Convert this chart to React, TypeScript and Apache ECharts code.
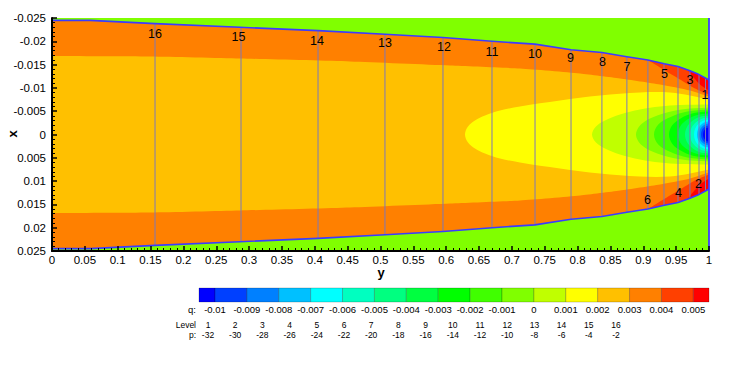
import React, { useEffect, useRef } from "react";
import * as echarts from "echarts";

// ---------- colour levels of q (17 bands) and legend texts ----------
const levelColors = [
  "#0000ff", "#0040ff", "#0080ff", "#00c0ff", "#00ffff", "#00ffc0", "#00ff80", "#00ff40",
  "#00ff00", "#40ff00", "#80ff00", "#c0ff00", "#ffff00", "#ffc000", "#ff8000", "#ff4000", "#ff0000",
];
const qTicks = [
  "-0.01", "-0.009", "-0.008", "-0.007", "-0.006", "-0.005", "-0.004", "-0.003",
  "-0.002", "-0.001", "0", "0.001", "0.002", "0.003", "0.004", "0.005",
];
const pLevels = [1, 2, 3, 4, 5, 6, 7, 8, 9, 10, 11, 12, 13, 14, 15, 16];
const pValues = [-32, -30, -28, -26, -24, -22, -20, -18, -16, -14, -12, -10, -8, -6, -4, -2];
const xAxisTitle = "y";
const yAxisTitle = "x";

// ---------- wake boundary (y along horizontal axis, half width in x) ----------
const wakeY = [0, 0.058, 0.157, 0.286, 0.405, 0.507, 0.595, 0.67, 0.735, 0.79, 0.837, 0.875, 0.907, 0.932, 0.953, 0.971, 0.983, 1.0];
const wakeX = [0.0245, 0.0245, 0.0238, 0.023, 0.0223, 0.0215, 0.0208, 0.02, 0.0194, 0.0182, 0.0176, 0.0167, 0.016, 0.0152, 0.0146, 0.0137, 0.013, 0.0117];

// q 0.002..0.003 band (upper half)
const band3Y = [0, 0.1492, 0.2861, 0.4536, 0.6058, 0.7123, 0.8037, 0.8645, 0.9254, 0.9711, 1];
const band3X = [0.01685, 0.01674, 0.01631, 0.01567, 0.01481, 0.01416, 0.01309, 0.01202, 0.01073, 0.00944, 0.00815];

// q 0.001..0.002 (yellow)
const yellowY = [0.6286, 0.6332, 0.6438, 0.6591, 0.6819, 0.7123, 0.7732, 0.8341, 0.895, 0.9406, 0.9711, 1];
const yellowX = [0, 0.00172, 0.003, 0.00408, 0.00515, 0.00601, 0.0073, 0.00837, 0.00901, 0.00901, 0.00837, 0.00751];

// q 0..0.001
const c12Y = [0.8219, 0.828, 0.8417, 0.8645, 0.895, 0.9254, 0.9559, 1];
const c12X = [0, 0.00172, 0.003, 0.00429, 0.00536, 0.00601, 0.00633, 0.00644];
// q -0.001..0
const c11Y = [0.8889, 0.8977, 0.9222, 0.9556, 1];
const c11X = [0, 0.00232, 0.00412, 0.00532, 0.00579];
// q -0.002..-0.001
const c10Y = [0.9163, 0.9228, 0.9425, 0.9671, 1];
const c10X = [0, 0.00215, 0.00382, 0.00494, 0.00536];
// q -0.003..-0.002
const c9Y = [0.9391, 0.944, 0.9574, 0.9756, 1];
const c9X = [0, 0.00197, 0.0035, 0.00455, 0.00494];
// q -0.004..-0.003
const c8Y = [0.9528, 0.9566, 0.967, 0.9811, 1];
const c8X = [0, 0.0018, 0.0032, 0.00414, 0.00451];
// q -0.005..-0.004
const c7Y = [0.9635, 0.9665, 0.9744, 0.9853, 1];
const c7X = [0, 0.00163, 0.0029, 0.00376, 0.00408];
// q -0.006..-0.005
const c6Y = [0.9711, 0.9734, 0.9798, 0.9884, 1];
const c6X = [0, 0.00146, 0.0026, 0.00335, 0.00365];
// q -0.007..-0.006
const c5Y = [0.9772, 0.979, 0.984, 0.9909, 1];
const c5X = [0, 0.00129, 0.0023, 0.00296, 0.00322];
// q -0.008..-0.007
const c4Y = [0.9817, 0.9833, 0.9871, 0.9925, 1];
const c4X = [0, 0.00112, 0.00197, 0.00258, 0.00279];
// q -0.009..-0.008
const c3Y = [0.9848, 0.986, 0.9893, 0.9939, 1];
const c3X = [0, 0.00094, 0.00167, 0.00217, 0.00236];
// q -0.01..-0.009
const c2Y = [0.9878, 0.9887, 0.9914, 0.9951, 1];
const c2X = [0, 0.00077, 0.00137, 0.00178, 0.00193];
// q < -0.01
const c1Y = [0.9909, 0.9916, 0.9936, 0.9963, 1];
const c1X = [0, 0.0006, 0.00107, 0.00137, 0.0015];

// q 0.004..0.005 patch near the wall (upper one; lower is its mirror)
const red4Y = [0.9072, 0.9315, 0.9528, 0.9711, 0.9833, 1, 1.005, 1.005, 1, 0.9787, 0.9559, 0.933, 0.9132];
const red4X = [0.01599, 0.01524, 0.01459, 0.01373, 0.01298, 0.0117, 0.0117, 0.00858, 0.00858, 0.00987, 0.0118, 0.01373, 0.01545];
// q > 0.005 patch
const red5Y = [0.968, 0.9833, 1, 1.005, 1.005, 1, 0.9863, 0.9741];
const red5X = [0.01384, 0.01298, 0.0117, 0.0117, 0.00944, 0.00944, 0.01073, 0.01266];

// ---------- p contour lines (levels 1..16) ----------
const pLineY = [0.9947, 0.9848, 0.971, 0.9528, 0.9315, 0.907, 0.875, 0.837, 0.79, 0.7352, 0.6697, 0.5951, 0.5068, 0.4049, 0.2877, 0.1568];
const pLineX = [0.01223, 0.01288, 0.01373, 0.01459, 0.01524, 0.01599, 0.01674, 0.0176, 0.01824, 0.01942, 0.01996, 0.02082, 0.02146, 0.02232, 0.02296, 0.02382];
const pLabelY = [0.9939, 0.984, 0.9711, 0.9536, 0.9323, 0.9064, 0.8752, 0.8379, 0.7892, 0.7352, 0.6697, 0.5967, 0.5068, 0.4033, 0.2839, 0.1568];
const pLabelX = [-0.00848, 0.01062, -0.0117, 0.01255, -0.01298, 0.01395, -0.01448, -0.01556, -0.01631, -0.01727, -0.01781, -0.01878, -0.01953, -0.01996, -0.02092, -0.02167];

const FONT = "'Liberation Sans', Arial, Helvetica, sans-serif";

type Region = { ys: number[]; xs: number[]; color: string; kind: "sym" | "pair"; smooth: number };

const regions: Region[] = [
  { ys: wakeY, xs: wakeX, color: levelColors[14], kind: "sym", smooth: 0 },
  { ys: red4Y, xs: red4X, color: levelColors[15], kind: "pair", smooth: 0 },
  { ys: red5Y, xs: red5X, color: levelColors[16], kind: "pair", smooth: 0 },
  { ys: band3Y, xs: band3X, color: levelColors[13], kind: "sym", smooth: 0.2 },
  { ys: yellowY, xs: yellowX, color: levelColors[12], kind: "sym", smooth: 0.35 },
  { ys: c12Y, xs: c12X, color: levelColors[11], kind: "sym", smooth: 0.35 },
  { ys: c11Y, xs: c11X, color: levelColors[10], kind: "sym", smooth: 0.35 },
  { ys: c10Y, xs: c10X, color: levelColors[9], kind: "sym", smooth: 0.35 },
  { ys: c9Y, xs: c9X, color: levelColors[8], kind: "sym", smooth: 0.35 },
  { ys: c8Y, xs: c8X, color: levelColors[7], kind: "sym", smooth: 0.35 },
  { ys: c7Y, xs: c7X, color: levelColors[6], kind: "sym", smooth: 0.35 },
  { ys: c6Y, xs: c6X, color: levelColors[5], kind: "sym", smooth: 0.35 },
  { ys: c5Y, xs: c5X, color: levelColors[4], kind: "sym", smooth: 0.35 },
  { ys: c4Y, xs: c4X, color: levelColors[3], kind: "sym", smooth: 0.35 },
  { ys: c3Y, xs: c3X, color: levelColors[2], kind: "sym", smooth: 0.35 },
  { ys: c2Y, xs: c2X, color: levelColors[1], kind: "sym", smooth: 0.35 },
  { ys: c1Y, xs: c1X, color: levelColors[0], kind: "sym", smooth: 0.35 },
];

function symPoints(r: Region): number[][] {
  const n = r.ys.length;
  const pts: number[][] = [];
  const hasTip = r.xs[0] === 0;
  if (!hasTip) pts.push([-0.02, -r.xs[0]]);
  for (let i = 0; i < n; i++) pts.push([r.ys[i], -r.xs[i]]);
  pts.push([1.01, -r.xs[n - 1]]);
  pts.push([1.01, r.xs[n - 1]]);
  for (let i = n - 1; i >= (hasTip ? 1 : 0); i--) pts.push([r.ys[i], r.xs[i]]);
  if (!hasTip) pts.push([-0.02, r.xs[0]]);
  return pts;
}

function buildOption(): any {
  const step = 31.89;
  const graphics: any[] = [];
  // colour bar
  for (let k = 0; k < levelColors.length; k++) {
    const x0 = k === 0 ? 199 : 215 + (k - 1) * step;
    const x1 = k === levelColors.length - 1 ? 709 : 215 + k * step;
    graphics.push({
      type: "rect",
      shape: { x: x0, y: 288, width: x1 - x0, height: 14 },
      style: { fill: levelColors[k], stroke: "rgba(0,0,0,0.35)", lineWidth: 0.6 },
    });
  }
  const txt = (x: number, y: number, text: string, font: string, align = "center", rotation = 0) => ({
    type: "text",
    x,
    y,
    rotation,
    style: {
      text,
      fill: "#000",
      font,
      align,
      verticalAlign: "middle",
    },
  });
  const f95 = `9.5px ${FONT}`;
  const f85 = `8.5px ${FONT}`;
  graphics.push(txt(196, 309, "q:", f95, "right"));
  qTicks.forEach((q, i) => graphics.push(txt(215 + i * step, 309, q, f95)));
  graphics.push(txt(196, 324.5, "Level", f85, "right"));
  graphics.push(txt(196, 334.5, "p:", f85, "right"));
  pLevels.forEach((lv, i) => {
    graphics.push(txt(208 + i * 27.2, 324.5, String(lv), f85));
    graphics.push(txt(208 + i * 27.2, 334.5, String(pValues[i]), f85));
  });
  // axis titles
  graphics.push(txt(381, 272, xAxisTitle, `bold 13px ${FONT}`));
  graphics.push(txt(12, 134, yAxisTitle, `bold 13px ${FONT}`, "center", Math.PI / 2));

  return {
    animation: false,
    textStyle: { fontFamily: FONT },
    grid: {
      left: 52,
      right: 38,
      top: 18,
      bottom: 124,
      containLabel: false,
      outerBoundsMode: "none",
      show: true,
      backgroundColor: levelColors[10],
      borderWidth: 0,
    },
    xAxis: {
      type: "value",
      min: 0,
      max: 1,
      interval: 0.05,
      z: 10,
      axisLine: { onZero: false, lineStyle: { color: "#000", width: 2 } },
      axisTick: { inside: true, length: 5, lineStyle: { color: "#000", width: 1.5 } },
      minorTick: { show: true, splitNumber: 5, length: 3, lineStyle: { color: "#000", width: 1 } },
      splitLine: { show: false },
      axisLabel: { color: "#000", fontSize: 11.5, margin: 3, fontFamily: FONT },
    },
    yAxis: {
      type: "value",
      inverse: true,
      min: -0.025,
      max: 0.025,
      interval: 0.005,
      z: 10,
      axisLine: { onZero: false, lineStyle: { color: "#000", width: 2 } },
      axisTick: { inside: true, length: 5, lineStyle: { color: "#000", width: 1.5 } },
      minorTick: { show: true, splitNumber: 5, length: 3, lineStyle: { color: "#000", width: 1 } },
      splitLine: { show: false },
      axisLabel: { color: "#000", fontSize: 11.5, margin: 6, fontFamily: FONT },
    },
    graphic: graphics,
    series: [
      {
        type: "custom",
        coordinateSystem: "cartesian2d",
        clip: true,
        silent: true,
        z: 2,
        data: regions.map(() => [0.5, 0]),
        renderItem: (params: any, api: any) => {
          const r = regions[params.dataIndex];
          if (r.kind === "sym") {
            const pts = symPoints(r).map((p) => api.coord(p));
            return {
              type: "polygon",
              shape: { points: pts, smooth: r.smooth },
              style: { fill: r.color },
            };
          }
          const top = r.ys.map((y, i) => api.coord([y, -r.xs[i]]));
          const bot = r.ys.map((y, i) => api.coord([y, r.xs[i]]));
          return {
            type: "group",
            children: [
              { type: "polygon", shape: { points: top, smooth: 0.2 }, style: { fill: r.color } },
              { type: "polygon", shape: { points: bot, smooth: 0.2 }, style: { fill: r.color } },
            ],
          };
        },
      },
      {
        type: "custom",
        coordinateSystem: "cartesian2d",
        clip: true,
        silent: true,
        z: 3,
        data: pLineY.map((y, i) => [y, pLineX[i]]),
        renderItem: (params: any, api: any) => {
          const y = api.value(0);
          const h = api.value(1);
          const a = api.coord([y, -h]);
          const b = api.coord([y, h]);
          return {
            type: "line",
            shape: { x1: a[0], y1: a[1], x2: b[0], y2: b[1] },
            style: { stroke: "#7c78b8", lineWidth: 1 },
          };
        },
      },
      {
        type: "custom",
        coordinateSystem: "cartesian2d",
        clip: false,
        silent: true,
        z: 4,
        data: [[0.5, 0]],
        renderItem: (params: any, api: any) => {
          const top = wakeY.map((y, i) => api.coord([y, -wakeX[i]]));
          const bot = wakeY.map((y, i) => api.coord([y, wakeX[i]]));
          const e1 = api.coord([1, -0.025]);
          const e2 = api.coord([1, 0.025]);
          const st = { stroke: "#3b3bff", lineWidth: 1.6, fill: null };
          return {
            type: "group",
            children: [
              { type: "polyline", shape: { points: top }, style: st },
              { type: "polyline", shape: { points: bot }, style: st },
              { type: "line", shape: { x1: e1[0], y1: e1[1], x2: e2[0], y2: e2[1] }, style: { stroke: "#3b3bff", lineWidth: 1.8 } },
            ],
          };
        },
      },
      {
        type: "custom",
        coordinateSystem: "cartesian2d",
        clip: false,
        silent: true,
        z: 5,
        data: pLabelY.map((y, i) => [y, pLabelX[i], pLevels[i]]),
        renderItem: (params: any, api: any) => {
          const p = api.coord([api.value(0), api.value(1)]);
          return {
            type: "text",
            x: p[0],
            y: p[1],
            style: {
              text: String(api.value(2)),
              fill: "#000",
              font: `12.5px ${FONT}`,
              align: "center",
              verticalAlign: "middle",
            },
          };
        },
      },
    ],
  };
}

export default function App() {
  const ref = useRef<HTMLDivElement>(null);
  useEffect(() => {
    if (!ref.current) return;
    const chart = echarts.init(ref.current, null, { renderer: "svg" });
    chart.setOption(buildOption());
    return () => chart.dispose();
  }, []);
  return (
    <div
      ref={ref}
      style={{ position: "fixed", left: 0, top: 0, width: 747, height: 375, background: "#fff" }}
    />
  );
}
